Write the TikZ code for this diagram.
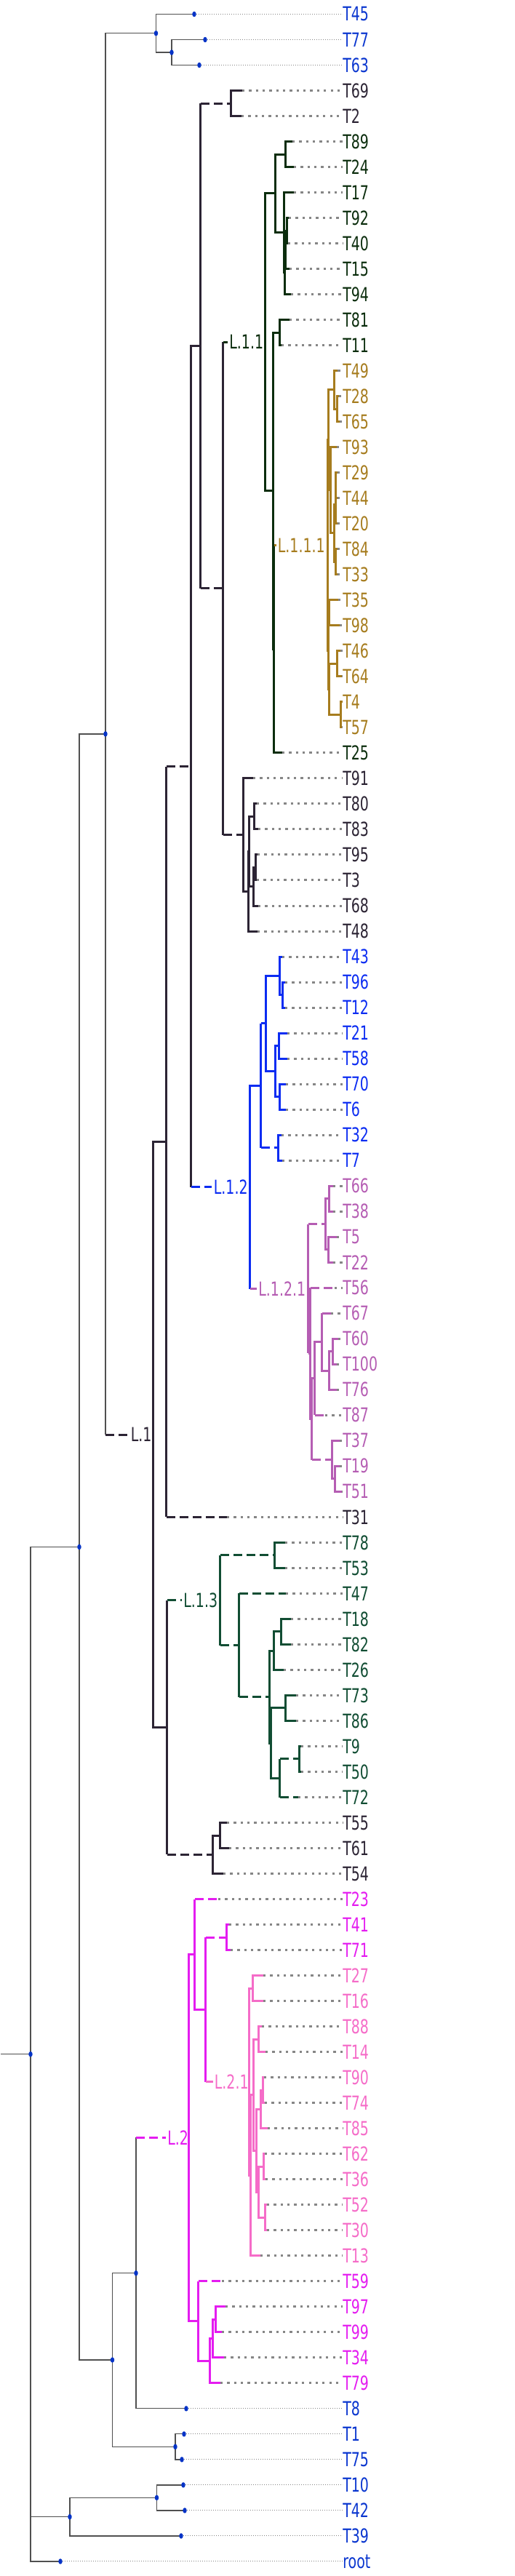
\documentclass[tikz,border=0pt]{standalone}
\usepackage{fontspec}
\newfontfamily\lblfont[FakeStretch=0.715]{DejaVu Sans}
\definecolor{cOut}{HTML}{0A36CF}
\definecolor{cLine}{HTML}{505050}
\definecolor{cDot}{HTML}{0533C6}
\definecolor{cGrey}{HTML}{868686}
\definecolor{cL1}{HTML}{2C2434}
\definecolor{cL11}{HTML}{0B2D0D}
\definecolor{cL111}{HTML}{A67C1E}
\definecolor{cL12}{HTML}{0B2CF2}
\definecolor{cL121}{HTML}{B55DB3}
\definecolor{cL13}{HTML}{114D33}
\definecolor{cL2}{HTML}{E41CF0}
\definecolor{cL21}{HTML}{F56CC8}
\tikzset{
  lab/.style={anchor=west,inner sep=0pt,font=\lblfont\fontsize{15.1}{18}\selectfont},
  outl/.style={draw=cLine,line width=0.25mm},
  odot/.style={draw=cGrey,line width=0.2mm,dash pattern=on 0.2mm off 0.4mm},
  ldot/.style={draw=cGrey,line width=0.6mm,dash pattern=on 0.65mm off 1.22mm},
  dsh/.style={dash pattern=on 2.4mm off 1.2mm},
  br1/.style={draw=cL1,line width=0.6mm},
  br11/.style={draw=cL11,line width=0.6mm},
  br111/.style={draw=cL111,line width=0.6mm},
  br12/.style={draw=cL12,line width=0.6mm},
  br121/.style={draw=cL121,line width=0.6mm},
  br13/.style={draw=cL13,line width=0.6mm},
  br2/.style={draw=cL2,line width=0.6mm},
  br21/.style={draw=cL21,line width=0.6mm}
}
\begin{document}
\begin{tikzpicture}[x=0.2mm,y=-7.003mm]
\useasboundingbox (0,0.4431) rectangle (708,101.574);

\coordinate (stem) at (1.5,81.087);
\coordinate (rt) at (42,81.087);
\coordinate (na) at (109,61.174);
\coordinate (nc) at (145,29.257);
\coordinate (nf) at (214.5,1.75);
\coordinate (nf2) at (236,2.5);
\coordinate (nd) at (154.5,93.091);
\coordinate (ne) at (187,89.683);
\coordinate (nd2) at (241,96.5);
\coordinate (nb) at (96,99.25);
\coordinate (nb2) at (215.5,98.5);
\coordinate (e45) at (267,1);
\coordinate (e77) at (282,2);
\coordinate (e63) at (274,3);
\coordinate (e8) at (256,95);
\coordinate (e1) at (253,96);
\coordinate (e75) at (250,97);
\coordinate (e10) at (252,98);
\coordinate (e42) at (254,99);
\coordinate (e39) at (249,100);
\coordinate (eroot) at (83,101);

\coordinate (l1) at (177,56.763);
\coordinate (l1v) at (211,56.763);
\coordinate (p) at (229,45.268);
\coordinate (q) at (230,68.258);
\coordinate (r) at (263,30.537);
\coordinate (e31) at (312,60);
\coordinate (s) at (276,14.023);
\coordinate (l12) at (291,47.051);
\coordinate (l12v) at (344,47.051);
\coordinate (tt) at (318,4.5);
\coordinate (e69) at (333,4);
\coordinate (e2) at (332,5);
\coordinate (u) at (307,23.546);
\coordinate (l11) at (313,13.873);
\coordinate (l11v) at (365,13.873);
\coordinate (v) at (335,33.219);
\coordinate (nw) at (379,8.031);
\coordinate (nx) at (376,19.715);
\coordinate (ny) at (392.5,6.5);
\coordinate (e89) at (402,6);
\coordinate (e24) at (404,7);
\coordinate (nz) at (390.5,9.563);
\coordinate (e17) at (404,8);
\coordinate (nz2) at (391.5,11.125);
\coordinate (e94) at (400,12);
\coordinate (nz3) at (393,10.25);
\coordinate (e15) at (398,11);
\coordinate (nz4) at (394.5,9.5);
\coordinate (e92) at (397,9);
\coordinate (e40) at (396,10);
\coordinate (x0) at (384.5,13.5);
\coordinate (e81) at (398,13);
\coordinate (e11) at (387,14);
\coordinate (x2) at (377,25.930);
\coordinate (l111) at (380,21.859);
\coordinate (l111v) at (451,21.859);
\coordinate (e25) at (388,30);
\coordinate (k2) at (452,17.719);
\coordinate (h) at (451.5,26);
\coordinate (g2) at (460,15.75);
\coordinate (e49) at (464.5,15);
\coordinate (g1) at (464,16.5);
\coordinate (e28) at (466,16);
\coordinate (e65) at (467,17);
\coordinate (k1) at (454.5,19.688);
\coordinate (e93) at (463,18);
\coordinate (gs) at (460,21.375);
\coordinate (gsa) at (461.5,20.25);
\coordinate (gsa1) at (462,19.5);
\coordinate (e29) at (464,19);
\coordinate (e44) at (464,20);
\coordinate (e20) at (464,21);
\coordinate (gsb) at (462,22.5);
\coordinate (e84) at (464,22);
\coordinate (e33) at (464,23);
\coordinate (h0) at (452.5,24.5);
\coordinate (e35) at (465,24);
\coordinate (e98) at (467,25);
\coordinate (h1) at (453,27.5);
\coordinate (ga) at (463.5,26.5);
\coordinate (e46) at (468,26);
\coordinate (e64) at (470,27);
\coordinate (gb) at (469,28.5);
\coordinate (e4) at (471,28);
\coordinate (e57) at (470,29);
\coordinate (e91) at (348,31);
\coordinate (v1) at (341.5,35.438);
\coordinate (v2) at (343,33.875);
\coordinate (v3) at (349.5,32.5);
\coordinate (e80) at (353,32);
\coordinate (e83) at (355,33);
\coordinate (v4) at (349,35.25);
\coordinate (v5) at (352,34.5);
\coordinate (e95) at (354,34);
\coordinate (e3) at (353,35);
\coordinate (e68) at (355,36);
\coordinate (e48) at (354,37);

\coordinate (bl) at (359,43.063);
\coordinate (b3) at (366,40.625);
\coordinate (b2) at (385,38.75);
\coordinate (e43) at (388,38);
\coordinate (b1) at (388.5,39.5);
\coordinate (e96) at (392,39);
\coordinate (e12) at (392,40);
\coordinate (b4) at (379,42.5);
\coordinate (b5) at (383.5,41.5);
\coordinate (e21) at (395,41);
\coordinate (e58) at (395,42);
\coordinate (b6) at (385,43.5);
\coordinate (e70) at (393,43);
\coordinate (e6) at (393,44);
\coordinate (b7) at (383,45.5);
\coordinate (e32) at (387,45);
\coordinate (e7) at (388,46);
\coordinate (l121) at (353,51.039);
\coordinate (l121v) at (424,51.039);
\coordinate (p1) at (448,48.5);
\coordinate (p11) at (453,47.5);
\coordinate (e66) at (458,47);
\coordinate (e38) at (458,48);
\coordinate (p12) at (452,49.5);
\coordinate (e5) at (463,49);
\coordinate (e22) at (458,50);
\coordinate (ph) at (427,53.578);
\coordinate (e56) at (460,51);
\coordinate (pg) at (429,56.156);
\coordinate (pd) at (433,54.563);
\coordinate (pc) at (443,53.125);
\coordinate (e67) at (455,52);
\coordinate (pb) at (453,54.25);
\coordinate (pa) at (458,53.5);
\coordinate (e60) at (465,53);
\coordinate (e100) at (463,54);
\coordinate (e76) at (463,55);
\coordinate (e87) at (447,56);
\coordinate (pf) at (457,57.75);
\coordinate (e37) at (467,57);
\coordinate (pe) at (461,58.5);
\coordinate (e19) at (467,58);
\coordinate (e51) at (470,59);

\coordinate (l13) at (250,63.266);
\coordinate (l13v) at (303,63.266);
\coordinate (m78) at (378,61.5);
\coordinate (e78) at (392,61);
\coordinate (e53) at (392,62);
\coordinate (m) at (329,65.031);
\coordinate (e47) at (393,63);
\coordinate (m1) at (371,67.063);
\coordinate (mb) at (377,65.25);
\coordinate (ma) at (387,64.5);
\coordinate (e18) at (400,64);
\coordinate (e82) at (400,65);
\coordinate (e26) at (390,66);
\coordinate (mf) at (372.5,68.875);
\coordinate (mc) at (393,67.5);
\coordinate (e73) at (407,67);
\coordinate (e86) at (407,68);
\coordinate (me) at (385,70.25);
\coordinate (md) at (412,69.5);
\coordinate (e9) at (414,69);
\coordinate (e50) at (414,70);
\coordinate (e72) at (410,71);
\coordinate (qb) at (293,73.25);
\coordinate (qb1) at (303,72.5);
\coordinate (e55) at (312,72);
\coordinate (e61) at (315,73);
\coordinate (e54) at (307,74);

\coordinate (l2) at (228,84.365);
\coordinate (l2v) at (260,84.365);
\coordinate (n1) at (268,77.168);
\coordinate (e23) at (300,75);
\coordinate (n2) at (283,79.336);
\coordinate (n3) at (312,76.5);
\coordinate (e41) at (315,76);
\coordinate (e71) at (317,77);
\coordinate (l21) at (293,82.172);
\coordinate (l21v) at (343,82.172);
\coordinate (pk1) at (348,78.5);
\coordinate (e27) at (362,78);
\coordinate (e16) at (362,79);
\coordinate (pk10) at (345,85.844);
\coordinate (pk9) at (349,82.688);
\coordinate (pk2) at (356,80.5);
\coordinate (e88) at (360,80);
\coordinate (e14) at (365,81);
\coordinate (pk8) at (353,84.875);
\coordinate (pk4) at (359,83.25);
\coordinate (pk3) at (362,82.5);
\coordinate (e90) at (363,82);
\coordinate (e74) at (364,83);
\coordinate (e85) at (368,84);
\coordinate (pk7) at (356,86.5);
\coordinate (pk5) at (363,85.5);
\coordinate (e62) at (364,85);
\coordinate (e36) at (365,86);
\coordinate (pk6) at (365,87.5);
\coordinate (e52) at (367,87);
\coordinate (e30) at (367,88);
\coordinate (e13) at (358,89);
\coordinate (n4) at (273,91.563);
\coordinate (e59) at (305,90);
\coordinate (n5) at (289,93.125);
\coordinate (n7) at (293,92.25);
\coordinate (n6) at (297,91.5);
\coordinate (e97) at (310,91);
\coordinate (e99) at (305,92);
\coordinate (e34) at (308,93);
\coordinate (e79) at (303,94);

\node[lab,cOut] (T45) at (471,1) {T45};
\node[lab,cOut] (T77) at (471,2) {T77};
\node[lab,cOut] (T63) at (471,3) {T63};
\node[lab,cL1] (T69) at (471,4) {T69};
\node[lab,cL1] (T2) at (471,5) {T2};
\node[lab,cL11] (T89) at (471,6) {T89};
\node[lab,cL11] (T24) at (471,7) {T24};
\node[lab,cL11] (T17) at (471,8) {T17};
\node[lab,cL11] (T92) at (471,9) {T92};
\node[lab,cL11] (T40) at (471,10) {T40};
\node[lab,cL11] (T15) at (471,11) {T15};
\node[lab,cL11] (T94) at (471,12) {T94};
\node[lab,cL11] (T81) at (471,13) {T81};
\node[lab,cL11] (T11) at (471,14) {T11};
\node[lab,cL111] (T49) at (471,15) {T49};
\node[lab,cL111] (T28) at (471,16) {T28};
\node[lab,cL111] (T65) at (471,17) {T65};
\node[lab,cL111] (T93) at (471,18) {T93};
\node[lab,cL111] (T29) at (471,19) {T29};
\node[lab,cL111] (T44) at (471,20) {T44};
\node[lab,cL111] (T20) at (471,21) {T20};
\node[lab,cL111] (T84) at (471,22) {T84};
\node[lab,cL111] (T33) at (471,23) {T33};
\node[lab,cL111] (T35) at (471,24) {T35};
\node[lab,cL111] (T98) at (471,25) {T98};
\node[lab,cL111] (T46) at (471,26) {T46};
\node[lab,cL111] (T64) at (471,27) {T64};
\node[lab,cL111] (T4) at (471,28) {T4};
\node[lab,cL111] (T57) at (471,29) {T57};
\node[lab,cL11] (T25) at (471,30) {T25};
\node[lab,cL1] (T91) at (471,31) {T91};
\node[lab,cL1] (T80) at (471,32) {T80};
\node[lab,cL1] (T83) at (471,33) {T83};
\node[lab,cL1] (T95) at (471,34) {T95};
\node[lab,cL1] (T3) at (471,35) {T3};
\node[lab,cL1] (T68) at (471,36) {T68};
\node[lab,cL1] (T48) at (471,37) {T48};
\node[lab,cL12] (T43) at (471,38) {T43};
\node[lab,cL12] (T96) at (471,39) {T96};
\node[lab,cL12] (T12) at (471,40) {T12};
\node[lab,cL12] (T21) at (471,41) {T21};
\node[lab,cL12] (T58) at (471,42) {T58};
\node[lab,cL12] (T70) at (471,43) {T70};
\node[lab,cL12] (T6) at (471,44) {T6};
\node[lab,cL12] (T32) at (471,45) {T32};
\node[lab,cL12] (T7) at (471,46) {T7};
\node[lab,cL121] (T66) at (471,47) {T66};
\node[lab,cL121] (T38) at (471,48) {T38};
\node[lab,cL121] (T5) at (471,49) {T5};
\node[lab,cL121] (T22) at (471,50) {T22};
\node[lab,cL121] (T56) at (471,51) {T56};
\node[lab,cL121] (T67) at (471,52) {T67};
\node[lab,cL121] (T60) at (471,53) {T60};
\node[lab,cL121] (T100) at (471,54) {T100};
\node[lab,cL121] (T76) at (471,55) {T76};
\node[lab,cL121] (T87) at (471,56) {T87};
\node[lab,cL121] (T37) at (471,57) {T37};
\node[lab,cL121] (T19) at (471,58) {T19};
\node[lab,cL121] (T51) at (471,59) {T51};
\node[lab,cL1] (T31) at (471,60) {T31};
\node[lab,cL13] (T78) at (471,61) {T78};
\node[lab,cL13] (T53) at (471,62) {T53};
\node[lab,cL13] (T47) at (471,63) {T47};
\node[lab,cL13] (T18) at (471,64) {T18};
\node[lab,cL13] (T82) at (471,65) {T82};
\node[lab,cL13] (T26) at (471,66) {T26};
\node[lab,cL13] (T73) at (471,67) {T73};
\node[lab,cL13] (T86) at (471,68) {T86};
\node[lab,cL13] (T9) at (471,69) {T9};
\node[lab,cL13] (T50) at (471,70) {T50};
\node[lab,cL13] (T72) at (471,71) {T72};
\node[lab,cL1] (T55) at (471,72) {T55};
\node[lab,cL1] (T61) at (471,73) {T61};
\node[lab,cL1] (T54) at (471,74) {T54};
\node[lab,cL2] (T23) at (471,75) {T23};
\node[lab,cL2] (T41) at (471,76) {T41};
\node[lab,cL2] (T71) at (471,77) {T71};
\node[lab,cL21] (T27) at (471,78) {T27};
\node[lab,cL21] (T16) at (471,79) {T16};
\node[lab,cL21] (T88) at (471,80) {T88};
\node[lab,cL21] (T14) at (471,81) {T14};
\node[lab,cL21] (T90) at (471,82) {T90};
\node[lab,cL21] (T74) at (471,83) {T74};
\node[lab,cL21] (T85) at (471,84) {T85};
\node[lab,cL21] (T62) at (471,85) {T62};
\node[lab,cL21] (T36) at (471,86) {T36};
\node[lab,cL21] (T52) at (471,87) {T52};
\node[lab,cL21] (T30) at (471,88) {T30};
\node[lab,cL21] (T13) at (471,89) {T13};
\node[lab,cL2] (T59) at (471,90) {T59};
\node[lab,cL2] (T97) at (471,91) {T97};
\node[lab,cL2] (T99) at (471,92) {T99};
\node[lab,cL2] (T34) at (471,93) {T34};
\node[lab,cL2] (T79) at (471,94) {T79};
\node[lab,cOut] (T8) at (471,95) {T8};
\node[lab,cOut] (T1) at (471,96) {T1};
\node[lab,cOut] (T75) at (471,97) {T75};
\node[lab,cOut] (T10) at (471,98) {T10};
\node[lab,cOut] (T42) at (471,99) {T42};
\node[lab,cOut] (T39) at (471,100) {T39};
\node[lab,cOut] (root) at (471,101) {root};

\node[lab,cL1] (lbl1) at (179.5,56.763) {L.1};
\node[lab,cL11] (lbl11) at (315,13.873) {L.1.1};
\node[lab,cL111] (lbl111) at (381.5,21.859) {L.1.1.1};
\node[lab,cL12] (lbl12) at (293.5,47.051) {L.1.2};
\node[lab,cL121] (lbl121) at (355,51.039) {L.1.2.1};
\node[lab,cL13] (lbl13) at (252,63.266) {L.1.3};
\node[lab,cL2] (lbl2) at (230,84.365) {L.2};
\node[lab,cL21] (lbl21) at (294.5,82.172) {L.2.1};

\draw[odot] (e45) -- (T45);
\draw[odot] (e77) -- (T77);
\draw[odot] (e63) -- (T63);
\draw[ldot] (e69) -- (T69);
\draw[ldot] (e2) -- (T2);
\draw[ldot] (e89) -- (T89);
\draw[ldot] (e24) -- (T24);
\draw[ldot] (e17) -- (T17);
\draw[ldot] (e92) -- (T92);
\draw[ldot] (e40) -- (T40);
\draw[ldot] (e15) -- (T15);
\draw[ldot] (e94) -- (T94);
\draw[ldot] (e81) -- (T81);
\draw[ldot] (e11) -- (T11);
\draw[ldot] (e49) -- (T49);
\draw[ldot] (e28) -- (T28);
\draw[ldot] (e65) -- (T65);
\draw[ldot] (e93) -- (T93);
\draw[ldot] (e29) -- (T29);
\draw[ldot] (e44) -- (T44);
\draw[ldot] (e20) -- (T20);
\draw[ldot] (e84) -- (T84);
\draw[ldot] (e33) -- (T33);
\draw[ldot] (e35) -- (T35);
\draw[ldot] (e98) -- (T98);
\draw[ldot] (e46) -- (T46);
\draw[ldot] (e64) -- (T64);
\draw[ldot] (e57) -- (T57);
\draw[ldot] (e25) -- (T25);
\draw[ldot] (e91) -- (T91);
\draw[ldot] (e80) -- (T80);
\draw[ldot] (e83) -- (T83);
\draw[ldot] (e95) -- (T95);
\draw[ldot] (e3) -- (T3);
\draw[ldot] (e68) -- (T68);
\draw[ldot] (e48) -- (T48);
\draw[ldot] (e43) -- (T43);
\draw[ldot] (e96) -- (T96);
\draw[ldot] (e12) -- (T12);
\draw[ldot] (e21) -- (T21);
\draw[ldot] (e58) -- (T58);
\draw[ldot] (e70) -- (T70);
\draw[ldot] (e6) -- (T6);
\draw[ldot] (e32) -- (T32);
\draw[ldot] (e7) -- (T7);
\draw[ldot] (e66) -- (T66);
\draw[ldot] (e38) -- (T38);
\draw[ldot] (e5) -- (T5);
\draw[ldot] (e22) -- (T22);
\draw[ldot] (e56) -- (T56);
\draw[ldot] (e67) -- (T67);
\draw[ldot] (e60) -- (T60);
\draw[ldot] (e100) -- (T100);
\draw[ldot] (e76) -- (T76);
\draw[ldot] (e87) -- (T87);
\draw[ldot] (e37) -- (T37);
\draw[ldot] (e19) -- (T19);
\draw[ldot] (e51) -- (T51);
\draw[ldot] (e31) -- (T31);
\draw[ldot] (e78) -- (T78);
\draw[ldot] (e53) -- (T53);
\draw[ldot] (e47) -- (T47);
\draw[ldot] (e18) -- (T18);
\draw[ldot] (e82) -- (T82);
\draw[ldot] (e26) -- (T26);
\draw[ldot] (e73) -- (T73);
\draw[ldot] (e86) -- (T86);
\draw[ldot] (e9) -- (T9);
\draw[ldot] (e50) -- (T50);
\draw[ldot] (e72) -- (T72);
\draw[ldot] (e55) -- (T55);
\draw[ldot] (e61) -- (T61);
\draw[ldot] (e54) -- (T54);
\draw[ldot] (e23) -- (T23);
\draw[ldot] (e41) -- (T41);
\draw[ldot] (e71) -- (T71);
\draw[ldot] (e27) -- (T27);
\draw[ldot] (e16) -- (T16);
\draw[ldot] (e88) -- (T88);
\draw[ldot] (e14) -- (T14);
\draw[ldot] (e90) -- (T90);
\draw[ldot] (e74) -- (T74);
\draw[ldot] (e85) -- (T85);
\draw[ldot] (e62) -- (T62);
\draw[ldot] (e36) -- (T36);
\draw[ldot] (e52) -- (T52);
\draw[ldot] (e30) -- (T30);
\draw[ldot] (e13) -- (T13);
\draw[ldot] (e59) -- (T59);
\draw[ldot] (e97) -- (T97);
\draw[ldot] (e99) -- (T99);
\draw[ldot] (e34) -- (T34);
\draw[ldot] (e79) -- (T79);
\draw[odot] (e8) -- (T8);
\draw[odot] (e1) -- (T1);
\draw[odot] (e75) -- (T75);
\draw[odot] (e10) -- (T10);
\draw[odot] (e42) -- (T42);
\draw[odot] (e39) -- (T39);
\draw[odot] (eroot) -- (root);

\draw[outl] (stem) -- (rt);
\draw[outl] (na) -| (rt) |- (eroot);
\draw[outl] (rt |- nb) -- (nb);
\draw[outl] (nc) -| (na) |- (nd);
\draw[outl] (nf) -| (nc) -- (nc |- l1);
\draw[br1,dsh] (nc |- l1) -- (l1);
\draw[outl] (e45) -| (nf) |- (nf2);
\draw[outl] (e77) -| (nf2) |- (e63);
\draw[outl] (ne) -| (nd) |- (nd2);
\draw[outl] (ne |- l2) -- (ne |- e8) -- (e8);
\draw[br2,dsh] (ne |- l2) -- (l2);
\draw[outl] (e1) -| (nd2) |- (e75);
\draw[outl] (nb2) -| (nb) |- (e39);
\draw[outl] (e10) -| (nb2) |- (e42);

\draw[br1] (p) -| (l1v) |- (q);
\draw[br1] (p |- r) -- (p |- e31);
\draw[br1,dsh] (p |- r) -- (r);
\draw[br1,dsh] (p |- e31) -- (e31);
\draw[br1] (s) -| (r) -- (r |- l12);
\draw[br12,dsh] (r |- l12) -- (l12);
\draw[br1] (s |- tt) -- (s |- u);
\draw[br1,dsh] (s |- tt) -- (tt);
\draw[br1,dsh] (s |- u) -- (u);
\draw[br1] (e69) -| (tt) |- (e2);
\draw[br1] (u |- l11) -- (u |- v);
\draw[br11] (u |- l11) -- (l11);
\draw[br1,dsh] (u |- v) -- (v);

\draw[br11] (nw) -| (l11v) |- (nx);
\draw[br11] (ny) -| (nw) |- (nz);
\draw[br11] (e89) -| (ny) |- (e24);
\draw[br11] (e17) -| (nz) |- (nz2);
\draw[br11] (nz3) -| (nz2) |- (e94);
\draw[br11] (nz4) -| (nz3) |- (e15);
\draw[br11] (e92) -| (nz4) |- (e40);
\draw[br11] (x0) -| (nx) |- (x2);
\draw[br11] (e81) -| (x0) |- (e11);
\draw[br11] (x2 |- l111) -- (x2 |- e25) -- (e25);
\draw[br111] (x2 |- l111) -- (l111);

\draw[br111] (k2) -| (l111v) |- (h);
\draw[br111] (g2) -| (k2) |- (k1);
\draw[br111] (e49) -| (g2) |- (g1);
\draw[br111] (e28) -| (g1) |- (e65);
\draw[br111] (e93) -| (k1) |- (gs);
\draw[br111] (gsa) -| (gs) |- (gsb);
\draw[br111] (gsa1) -| (gsa) |- (e20);
\draw[br111] (e29) -| (gsa1) |- (e44);
\draw[br111] (e84) -| (gsb) |- (e33);
\draw[br111] (h0) -| (h) |- (h1);
\draw[br111] (e35) -| (h0) |- (e98);
\draw[br111] (ga) -| (h1) |- (gb);
\draw[br111] (e46) -| (ga) |- (e64);
\draw[br111] (e4) -| (gb) |- (e57);

\draw[br1] (e91) -| (v) |- (v1);
\draw[br1] (v2) -| (v1) |- (e48);
\draw[br1] (v3) -| (v2) |- (v4);
\draw[br1] (e80) -| (v3) |- (e83);
\draw[br1] (v5) -| (v4) |- (e68);
\draw[br1] (e95) -| (v5) |- (e3);

\draw[br12] (bl) -| (l12v) -- (l12v |- l121);
\draw[br121] (l12v |- l121) -- (l121);
\draw[br12] (bl |- b3) -- (bl |- b7);
\draw[br12] (bl |- b3) -- (b3);
\draw[br12,dsh] (bl |- b7) -- (b7);
\draw[br12] (b2) -| (b3) |- (b4);
\draw[br12] (e43) -| (b2) |- (b1);
\draw[br12] (e96) -| (b1) |- (e12);
\draw[br12] (b5) -| (b4) |- (b6);
\draw[br12] (e21) -| (b5) |- (e58);
\draw[br12] (e70) -| (b6) |- (e6);
\draw[br12] (e32) -| (b7) |- (e7);

\draw[br121] (l121v |- p1) -- (l121v |- ph);
\draw[br121,dsh] (l121v |- p1) -- (p1);
\draw[br121] (l121v |- ph) -- (ph);
\draw[br121] (p11) -| (p1) |- (p12);
\draw[br121] (e66) -| (p11) |- (e38);
\draw[br121] (e5) -| (p12) |- (e22);
\draw[br121] (ph |- e56) -- (ph |- pg) -- (pg);
\draw[br121,dsh] (ph |- e56) -- (e56);
\draw[br121] (pd) -| (pg) -- (pg |- pf);
\draw[br121,dsh] (pg |- pf) -- (pf);
\draw[br121] (pc) -| (pd) -- (pd |- e87);
\draw[br121,dsh] (pd |- e87) -- (e87);
\draw[br121] (pc |- e67) -- (pc |- pb) -- (pb);
\draw[br121,dsh] (pc |- e67) -- (e67);
\draw[br121] (pa) -| (pb) |- (e76);
\draw[br121] (e60) -| (pa) |- (e100);
\draw[br121] (e37) -| (pf) |- (pe);
\draw[br121] (e19) -| (pe) |- (e51);

\draw[br1] (q |- l13) -- (q |- qb);
\draw[br13,dsh] (q |- l13) -- (l13);
\draw[br1,dsh] (q |- qb) -- (qb);
\draw[br1] (qb1) -| (qb) |- (e54);
\draw[br1] (e55) -| (qb1) |- (e61);

\draw[br13] (l13v |- m78) -- (l13v |- m);
\draw[br13,dsh] (l13v |- m78) -- (m78);
\draw[br13,dsh] (l13v |- m) -- (m);
\draw[br13] (e78) -| (m78) |- (e53);
\draw[br13] (m |- e47) -- (m |- m1);
\draw[br13,dsh] (m |- e47) -- (e47);
\draw[br13,dsh] (m |- m1) -- (m1);
\draw[br13] (mb) -| (m1) |- (mf);
\draw[br13] (ma) -| (mb) |- (e26);
\draw[br13] (e18) -| (ma) |- (e82);
\draw[br13] (mc) -| (mf) |- (me);
\draw[br13] (e73) -| (mc) |- (e86);
\draw[br13] (me |- md) -- (me |- e72);
\draw[br13,dsh] (me |- md) -- (md);
\draw[br13,dsh] (me |- e72) -- (e72);
\draw[br13] (e9) -| (md) |- (e50);

\draw[br2] (n1) -| (l2v) |- (n4);
\draw[br2] (n1 |- e23) -- (n1 |- n2) -- (n2);
\draw[br2,dsh] (n1 |- e23) -- (e23);
\draw[br2] (n2 |- n3) -- (n2 |- l21);
\draw[br2,dsh] (n2 |- n3) -- (n3);
\draw[br21] (n2 |- l21) -- (l21);
\draw[br2] (e41) -| (n3) |- (e71);
\draw[br2] (n4 |- e59) -- (n4 |- n5) -- (n5);
\draw[br2,dsh] (n4 |- e59) -- (e59);
\draw[br2] (n7) -| (n5) |- (e79);
\draw[br2] (n6) -| (n7) |- (e34);
\draw[br2] (e97) -| (n6) |- (e99);

\draw[br21] (pk1) -| (l21v) |- (pk10);
\draw[br21] (e27) -| (pk1) |- (e16);
\draw[br21] (pk9) -| (pk10) |- (e13);
\draw[br21] (pk2) -| (pk9) |- (pk8);
\draw[br21] (e88) -| (pk2) |- (e14);
\draw[br21] (pk4) -| (pk8) |- (pk7);
\draw[br21] (pk3) -| (pk4) |- (e85);
\draw[br21] (e90) -| (pk3) |- (e74);
\draw[br21] (pk5) -| (pk7) |- (pk6);
\draw[br21] (e62) -| (pk5) |- (e36);
\draw[br21] (e52) -| (pk6) |- (e30);

\fill[cDot] (rt) ellipse [x radius=0.55mm,y radius=0.75mm];
\fill[cDot] (na) ellipse [x radius=0.55mm,y radius=0.75mm];
\fill[cDot] (nb) ellipse [x radius=0.55mm,y radius=0.75mm];
\fill[cDot] (nc) ellipse [x radius=0.55mm,y radius=0.75mm];
\fill[cDot] (nd) ellipse [x radius=0.55mm,y radius=0.75mm];
\fill[cDot] (ne) ellipse [x radius=0.55mm,y radius=0.75mm];
\fill[cDot] (nf) ellipse [x radius=0.55mm,y radius=0.75mm];
\fill[cDot] (nf2) ellipse [x radius=0.55mm,y radius=0.75mm];
\fill[cDot] (nd2) ellipse [x radius=0.55mm,y radius=0.75mm];
\fill[cDot] (nb2) ellipse [x radius=0.55mm,y radius=0.75mm];
\fill[cDot] (e45) ellipse [x radius=0.55mm,y radius=0.75mm];
\fill[cDot] (e77) ellipse [x radius=0.55mm,y radius=0.75mm];
\fill[cDot] (e63) ellipse [x radius=0.55mm,y radius=0.75mm];
\fill[cDot] (e8) ellipse [x radius=0.55mm,y radius=0.75mm];
\fill[cDot] (e1) ellipse [x radius=0.55mm,y radius=0.75mm];
\fill[cDot] (e75) ellipse [x radius=0.55mm,y radius=0.75mm];
\fill[cDot] (e10) ellipse [x radius=0.55mm,y radius=0.75mm];
\fill[cDot] (e42) ellipse [x radius=0.55mm,y radius=0.75mm];
\fill[cDot] (e39) ellipse [x radius=0.55mm,y radius=0.75mm];
\fill[cDot] (eroot) ellipse [x radius=0.55mm,y radius=0.75mm];
\end{tikzpicture}
\end{document}
